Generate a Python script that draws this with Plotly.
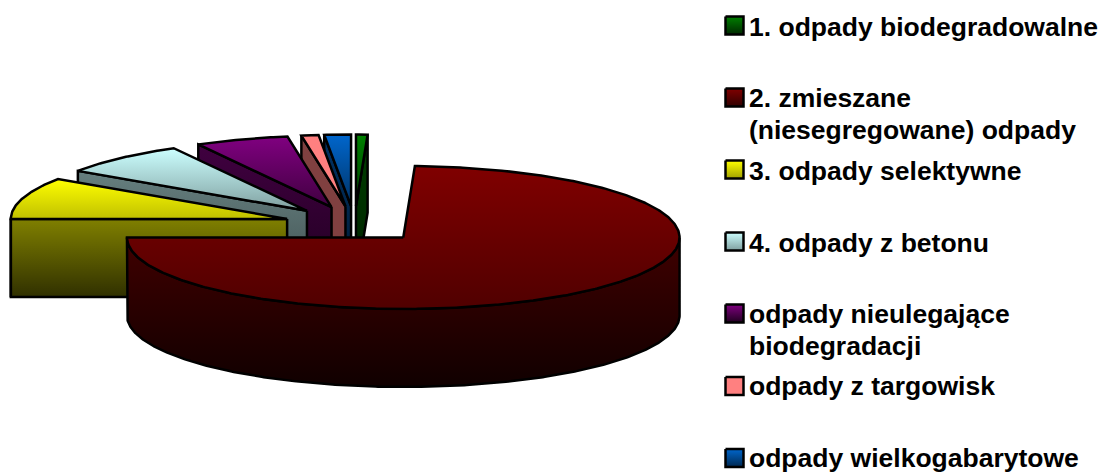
import math
import plotly.graph_objects as go

# --- data (share of waste stream, %)
labels = [
    "1. odpady biodegradowalne",
    "2. zmieszane<br>(niesegregowane) odpady",
    "3. odpady selektywne",
    "4. odpady z betonu",
    "odpady nieulegające<br>biodegradacji",
    "odpady z targowisk",
    "odpady wielkogabarytowe",
]
values = [0.67, 74.33, 9.44, 7.55, 5.46, 1.0, 1.55]

# --- style
top_start = ["#008000", "#800000", "#ffff00", "#ccffff", "#800080", "#ff8080", "#0066cc"]
top_end = ["#004000", "#500000", "#c0c000", "#7f9f9f", "#400040", "#ff8080", "#003366"]
wall_start = ["#004000", "#400000", "#808000", "#667f7f", "#400040", "#804040", "#003366"]
wall_end = ["#002000", "#100000", "#303000", "#3f5050", "#200020", "#804040", "#001a33"]
key_start = ["#008000", "#800000", "#ffff00", "#ccffff", "#800080", "#ff8080", "#0066cc"]
key_end = ["#002800", "#300000", "#a0a000", "#7f9f9f", "#200020", "#ff8080", "#002850"]

# --- layout of the projected pie and of the key
CX, CY, RX, RY = 354.5, 224.3, 276.3, 71.5
EXPLODE, DEPTH = 0.255, 78.0
LEGEND_TEXT_X = 749
LEGEND_KEY_X = (725.5, 743.5)
legend_text_y = [[27], [98, 130], [171], [243], [314, 346], [386], [458]]
legend_key_top = [16.5, 88.5, 160.5, 232.5, 304.5, 377, 449]
KEY_SIZE = 18
LW = 2.5

fig = go.Figure()


def pt(theta_deg, ox, oy, z=0.0):
    t = math.radians(theta_deg)
    return ox + RX * math.sin(t), oy - RY * math.cos(t) + z


def arc(a, b, ox, oy, z=0.0):
    n = max(2, int(abs(b - a) * 2) + 1)
    return [pt(a + (b - a) * i / (n - 1), ox, oy, z) for i in range(n)]


def poly(points, c0, c1):
    xs = [p[0] for p in points] + [points[0][0]]
    ys = [p[1] for p in points] + [points[0][1]]
    # the y axis runs downward, so the gradient's low end is the bottom of the shape
    fig.add_trace(go.Scatter(
        x=xs, y=ys, mode="lines", fill="toself",
        line=dict(color="black", width=LW),
        fillgradient=dict(type="vertical",
                          colorscale=[[0, c1], [1, c0]]),
        hoverinfo="skip", showlegend=False,
    ))


# slice angles, clockwise from the top
total = sum(values)
angles = []
acc = 0.0
for v in values:
    angles.append((acc, acc + v / total * 360))
    acc += v / total * 360

# painter's order: back slices first, the big front slice last
for i in [0, 6, 5, 4, 3, 2, 1]:
    a, b = angles[i]
    mid = math.radians((a + b) / 2)
    ox = CX + EXPLODE * RX * math.sin(mid)
    oy = CY - EXPLODE * RY * math.cos(mid)
    apex = (ox, oy)
    apex_low = (ox, oy + DEPTH)
    # cut walls
    if math.sin(math.radians(a)) < -1e-6:
        poly([apex, pt(a, ox, oy), pt(a, ox, oy, DEPTH), apex_low], wall_start[i], wall_end[i])
    if math.sin(math.radians(b)) > 1e-6:
        poly([apex, pt(b, ox, oy), pt(b, ox, oy, DEPTH), apex_low], wall_start[i], wall_end[i])
    # outer wall (front half of the rim only)
    lo, hi = max(a, 90.0), min(b, 270.0)
    if hi > lo:
        poly(arc(lo, hi, ox, oy) + arc(hi, lo, ox, oy, DEPTH), wall_start[i], wall_end[i])
    # top face
    poly([apex] + arc(a, b, ox, oy), top_start[i], top_end[i])

# key
for i, lab in enumerate(labels):
    x0, x1 = LEGEND_KEY_X
    y0 = legend_key_top[i]
    poly([(x0, y0), (x1, y0), (x1, y0 + KEY_SIZE), (x0, y0 + KEY_SIZE)], key_start[i], key_end[i])
    for line, y in zip(lab.split("<br>"), legend_text_y[i]):
        fig.add_annotation(
            x=LEGEND_TEXT_X, y=y, text=line, showarrow=False,
            xanchor="left", yanchor="middle", align="left",
            borderpad=0, borderwidth=0,
            font=dict(family="Liberation Sans", size=26.5, color="black", weight="bold"),
        )

fig.update_layout(
    width=1102, height=472, autosize=False,
    margin=dict(l=0, r=0, t=0, b=0),
    paper_bgcolor="white", plot_bgcolor="white",
    showlegend=False,
    xaxis=dict(range=[0, 1102], visible=False, fixedrange=True),
    yaxis=dict(range=[472, 0], visible=False, fixedrange=True),
)
fig.write_html("out.html", config={"displayModeBar": False},
               post_script="document.body.style.margin='0';document.body.style.overflow='hidden';")
